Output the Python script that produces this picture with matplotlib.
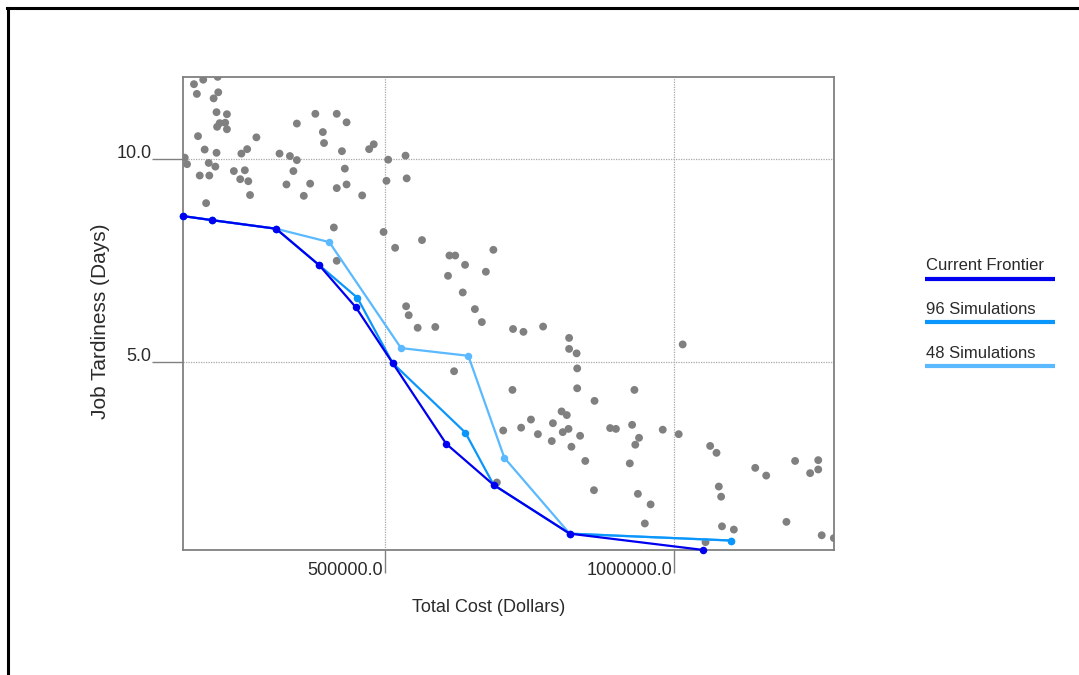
import matplotlib
matplotlib.use("Agg")
import matplotlib.pyplot as plt
from matplotlib.lines import Line2D
import numpy as np

plt.rcParams['font.family'] = ['Liberation Sans', 'DejaVu Sans']

# ---- data ----
sim_cost = [169, 185, 210, 174, 211, 203, 208, 226, 213.5, 223, 209, 226, 347, 379, 416, 433,
            392, 394, 176, 277, 187.5, 208, 261, 251, 153, 157, 194.5, 206, 179, 195.5, 238, 257,
            249, 263, 266, 190, 317, 335, 347, 341, 329, 370, 359, 425, 430, 433, 416, 460, 472,
            480, 505, 535, 502, 537, 411, 497, 563.5, 517, 416, 536, 540.5, 611, 621, 638, 687,
            674, 608.5, 634, 556, 586.5, 655, 667, 721, 739, 773, 818, 818, 831, 832, 619, 720,
            832, 931, 862, 1014.5, 889, 899, 927, 939, 932.5, 980, 1007.6, 923, 937, 959, 949,
            1062, 1073, 1077, 1081, 1082.5, 1103, 1140, 1159, 1209, 1249, 1235, 1249, 1194, 1255,
            1276, 1054, 805, 814, 752, 790, 704, 735, 764, 807, 817, 837, 788, 822, 846, 861, 693]
sim_tardiness = [11.85, 11.96, 12.03, 11.61, 11.65, 11.50, 11.16, 11.11, 10.89, 10.90, 10.80, 10.74,
                 10.88, 11.12, 11.12, 10.91, 10.67, 10.40, 10.57, 10.54, 10.24, 10.16, 10.25, 10.14,
                 10.04, 9.88, 9.91, 9.82, 9.60, 9.60, 9.71, 9.73, 9.51, 9.46, 9.12, 8.92, 10.14, 10.08,
                 9.98, 9.71, 9.38, 9.40, 9.10, 10.20, 9.77, 9.38, 9.29, 9.11, 10.25, 10.37, 9.99,
                 10.09, 9.47, 9.53, 8.32, 8.21, 8.01, 7.82, 7.50, 6.38, 6.16, 7.63, 7.63, 7.40, 7.77,
                 7.23, 7.13, 6.72, 5.85, 5.87, 6.31, 5.99, 5.82, 5.75, 5.88, 5.60, 5.33, 5.22, 4.85,
                 4.78, 4.32, 4.36, 4.32, 4.05, 5.44, 3.38, 3.36, 3.46, 3.14, 2.97, 3.34, 3.23, 2.51,
                 1.76, 1.50, 1.03, 2.94, 2.77, 1.94, 1.69, 0.96, 0.88, 2.40, 2.21, 2.57, 2.59, 2.27,
                 2.36, 1.07, 0.74, 0.67, 0.57, 3.79, 3.70, 3.59, 3.50, 3.32, 3.39, 3.23, 3.28, 3.36,
                 3.19, 3.06, 2.92, 2.57, 1.85, 2.04]
sim_cost = [c * 1000 for c in sim_cost]

frontier_cost = [150500, 200700, 310900, 385800, 449300, 512800, 605500, 687500, 819000, 1049100]
frontier_tard = [8.60, 8.50, 8.29, 7.39, 6.35, 4.98, 2.99, 1.98, 0.78, 0.38]

sim96_cost = [150500, 200700, 310900, 385800, 451600, 512800, 638400, 687500, 819000, 1098600]
sim96_tard = [8.60, 8.50, 8.29, 7.39, 6.59, 4.98, 3.27, 1.98, 0.78, 0.61]

sim48_cost = [150500, 200700, 310900, 403100, 527200, 643600, 705900, 819000, 1098600]
sim48_tard = [8.60, 8.50, 8.29, 7.96, 5.35, 5.16, 2.65, 0.78, 0.61]

x_ticks = [500000, 1000000]
x_tick_labels = ["500000.0", "1000000.0"]
y_ticks = [5.0, 10.0]
y_tick_labels = ["5.0", "10.0"]

series_names = ["Current Frontier", "96 Simulations", "48 Simulations"]
series_colors = ["#0000F0", "#0A96FA", "#5AB9FF"]

# ---- figure ----
W, H = 1079, 675
fig = plt.figure(figsize=(W / 100, H / 100), dpi=100)
fig.patch.set_facecolor("white")

def fx(px):
    return px / W

def fy(py):
    return 1 - py / H

ax = fig.add_axes([fx(182.7), fy(550), fx(834.3) - fx(182.7), fy(76.7) - fy(550)])
ax.set_xlim(149500, 1276800)
ax.set_ylim(0.377, 12.034)

gray = "#808080"
for sp in ax.spines.values():
    sp.set_color(gray)
    sp.set_linewidth(1.3)

ax.set_xticks(x_ticks)
ax.set_yticks(y_ticks)
ax.set_xticklabels([])
ax.set_yticklabels([])
ax.tick_params(axis='x', direction='out', length=23 * 0.72, width=1.0, color=gray)
ax.tick_params(axis='y', direction='out', length=31 * 0.72, width=1.0, color=gray)
ax.grid(True, linestyle=(0, (1, 1)), color="#a8a8a8", linewidth=0.9)
ax.set_axisbelow(True)

txt_color = "#2a2a2a"
for xv, lab in zip(x_ticks, x_tick_labels):
    ax.annotate(lab, xy=(xv, 0), xycoords=('data', 'axes fraction'),
                xytext=(-1.5, -14.5), textcoords='offset points',
                ha='right', va='center', fontsize=13, color=txt_color)
for yv, lab in zip(y_ticks, y_tick_labels):
    ax.annotate(lab, xy=(0, yv), xycoords=('axes fraction', 'data'),
                xytext=(-22.5, 0.8), textcoords='offset points',
                ha='right', va='baseline', fontsize=13, color=txt_color)

ax.scatter(sim_cost, sim_tardiness, s=32, color=gray, edgecolors='none', zorder=2)

ax.plot(sim48_cost, sim48_tard, color=series_colors[2], lw=1.6, marker='o', ms=5.4,
        markeredgewidth=0, zorder=3, clip_on=False)
ax.plot(sim96_cost, sim96_tard, color=series_colors[1], lw=1.6, marker='o', ms=5.4,
        markeredgewidth=0, zorder=4, clip_on=False)
ax.plot(frontier_cost, frontier_tard, color=series_colors[0], lw=1.6, marker='o', ms=5.4,
        markeredgewidth=0, zorder=5, clip_on=False)

fig.text(fx(489), fy(607), "Total Cost (Dollars)", ha='center', va='center',
         fontsize=13, color=txt_color)
fig.text(fx(100.5), fy(321), "Job Tardiness (Days)", ha='center', va='center',
         rotation=90, fontsize=15, color=txt_color)

# legend
leg_text_y = [266, 310, 353]
leg_line_y = [279, 322, 366]
for name, col, ty, ly in zip(series_names, series_colors, leg_text_y, leg_line_y):
    fig.text(fx(926), fy(ty), name, ha='left', va='center', fontsize=12, color=txt_color)
    fig.add_artist(Line2D([fx(925), fx(1055)], [fy(ly), fy(ly)], color=col, lw=3.0,
                          solid_capstyle='butt'))

# outer frame (left and top edges)
fig.add_artist(Line2D([fx(8), fx(8)], [fy(8), fy(H + 5)], color="black", lw=2.2))
fig.add_artist(Line2D([fx(6.9), fx(W + 5)], [fy(8), fy(8)], color="black", lw=2.2))

fig.savefig("out.png", dpi=100)
